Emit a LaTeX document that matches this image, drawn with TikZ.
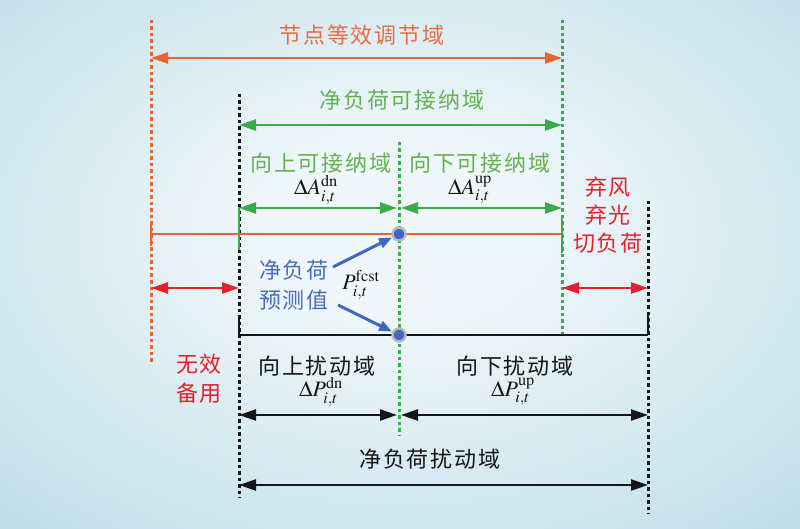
\documentclass[tikz,border=0pt]{standalone}
\usepackage{mathptmx}
\usepackage{fontspec}
\newfontfamily\cjk[LetterSpace=9]{Noto Sans CJK SC}
\usetikzlibrary{arrows.meta}
\definecolor{cOr}{RGB}{232,100,48}
\definecolor{cOrT}{RGB}{230,110,70}
\definecolor{cGr}{RGB}{55,172,72}
\definecolor{cGrT}{RGB}{100,178,82}
\definecolor{cRd}{RGB}{228,32,45}
\definecolor{cBl}{RGB}{62,102,196}
\definecolor{cBlT}{RGB}{72,108,190}
\definecolor{cBk}{RGB}{22,22,22}
\definecolor{bgin}{RGB}{240,247,250}
\definecolor{bgout}{RGB}{160,206,221}
\pgfdeclareradialshading{bgshade}{\pgfpoint{0bp}{4bp}}{color(0bp)=(bgin); color(8bp)=(bgin); color(55bp)=(bgout); color(80bp)=(bgout)}
\begin{document}
\begin{tikzpicture}[x=1pt,y=-1pt,
  lab/.style={font=\cjk\fontsize{22}{28}\selectfont, inner sep=0pt, align=center},
  mth/.style={font=\fontsize{22}{24}\selectfont, inner sep=0pt, text=cBk},
  dsh/.style={line width=3pt, dash pattern=on 3.5pt off 3pt},
  sol/.style={line width=2.4pt},
  dbl/.style={line width=2.4pt, {Triangle[length=17pt,width=11pt]}-{Triangle[length=17pt,width=11pt]}},
  barrow/.style={line width=3pt, cBl, -{Triangle[length=13pt,width=10pt]}},
  dotn/.style={circle, fill=cBl, draw=gray!55, line width=2.4pt, minimum size=13pt, inner sep=0pt}]
\useasboundingbox (0,0) rectangle (800,529);
\path[shading=bgshade] (0,0) rectangle (800,529);
% coordinates
\coordinate (o1) at (151,20);  \coordinate (o2) at (151,362);
\coordinate (g2a) at (562,20); \coordinate (g2b) at (562,335);
\coordinate (b1a) at (239,94); \coordinate (b1b) at (239,498);
\coordinate (g1a) at (399,142);\coordinate (g1b) at (399,435);
\coordinate (b2a) at (648,201);\coordinate (b2b) at (648,514);
% vertical dashed lines
\draw[dsh,cOr] (o1) -- (o2);
\draw[dsh,cGr] (g2a) -- (g2b);
\draw[dsh,cBk] (b1a) -- (b1b);
\draw[dsh,cGr] (g1a) -- (g1b);
\draw[dsh,cBk] (b2a) -- (b2b);
% short solid ticks
\coordinate (ot1) at (151,221); \coordinate (ot2) at (151,246);
\coordinate (gt1) at (239,207); \coordinate (gt2) at (239,250);
\coordinate (gt3) at (562,217); \coordinate (gt4) at (562,253);
\coordinate (bt1) at (239,315); \coordinate (bt2) at (239,335);
\coordinate (bt3) at (648,315); \coordinate (bt4) at (648,335);
\draw[sol,cOr,line width=2pt] (ot1) -- (ot2);
\draw[sol,cGr,line width=2pt] (gt1) -- (gt2);
\draw[sol,cGr,line width=2pt] (gt3) -- (gt4);
\draw[sol,cBk,line width=2.4pt] (bt1) -- (bt2);
\draw[sol,cBk,line width=2.4pt] (bt3) -- (bt4);
% arrows top
\coordinate (a1l) at (151,58); \coordinate (a1r) at (562,58);
\draw[dbl,cOr] (a1l) -- (a1r);
\coordinate (a2l) at (239,125); \coordinate (a2r) at (562,125);
\draw[dbl,cGr] (a2l) -- (a2r);
\coordinate (a3l) at (239,208); \coordinate (a3m) at (397,208);
\coordinate (a3n) at (401,208); \coordinate (a3r) at (562,208);
\draw[dbl,cGr] (a3l) -- (a3m);
\draw[dbl,cGr] (a3n) -- (a3r);
% horizontal lines
\coordinate (hl1) at (151,234); \coordinate (hr1) at (561,234);
\draw[cOr,line width=2.2pt] (hl1) -- (hr1);
\coordinate (hl2) at (239,335); \coordinate (hr2) at (648,335);
\draw[cBk,line width=2.8pt] (hl2) -- (hr2);
% red arrows
\coordinate (r1l) at (151,288); \coordinate (r1r) at (239,288);
\draw[dbl,cRd] (r1l) -- (r1r);
\coordinate (r2l) at (562,288); \coordinate (r2r) at (648,288);
\draw[dbl,cRd] (r2l) -- (r2r);
% black arrows
\coordinate (k1l) at (239,415); \coordinate (k1m) at (397,415);
\coordinate (k1n) at (401,415); \coordinate (k1r) at (648,415);
\draw[dbl,cBk] (k1l) -- (k1m);
\draw[dbl,cBk] (k1n) -- (k1r);
\coordinate (k2l) at (239,485); \coordinate (k2r) at (648,485);
\draw[dbl,cBk] (k2l) -- (k2r);
% dots
\node[dotn] (d1) at (399,234) {};
\node[dotn] (d2) at (399,335) {};
% texts
\node[lab,text=cOrT] (tnode) at (362,35) {节点等效调节域};
\node[lab,text=cGrT] (tacc) at (402,100) {净负荷可接纳域};
\node[lab,text=cGrT] (tupacc) at (321,163) {向上可接纳域};
\node[lab,text=cGrT] (tdnacc) at (480,163) {向下可接纳域};
\node[mth] (mAdn) at (316,190) {$\Delta A_{i,t}^{\mathrm{dn}}$};
\node[mth] (mAup) at (470,190) {$\Delta A_{i,t}^{\mathrm{up}}$};
\node[lab,text=cRd] (rq) at (608,215) {弃风\\弃光\\切负荷};
\node[lab,text=cBlT,font=\cjk\fontsize{22}{30}\selectfont] (bfc) at (294,285) {净负荷\\预测值};
\node[mth] (mP) at (361,285) {$P_{i,t}^{\mathrm{fcst}}$};
\node[lab,text=cRd,font=\cjk\fontsize{22}{29}\selectfont] (rinv) at (199,379) {无效\\备用};
\node[lab,text=cBk] (kup) at (317,366) {向上扰动域};
\node[lab,text=cBk] (kdn) at (515,366) {向下扰动域};
\node[mth] (mPdn) at (321,392) {$\Delta P_{i,t}^{\mathrm{dn}}$};
\node[mth] (mPup) at (513,392) {$\Delta P_{i,t}^{\mathrm{up}}$};
\node[lab,text=cBk] (kall) at (430,459) {净负荷扰动域};
% blue arrows
\coordinate (ba1) at (333,267);
\coordinate (ba2) at (338,305);
\draw[barrow] (ba1) -- (d1);
\draw[barrow] (ba2) -- (d2);
\end{tikzpicture}
\end{document}
